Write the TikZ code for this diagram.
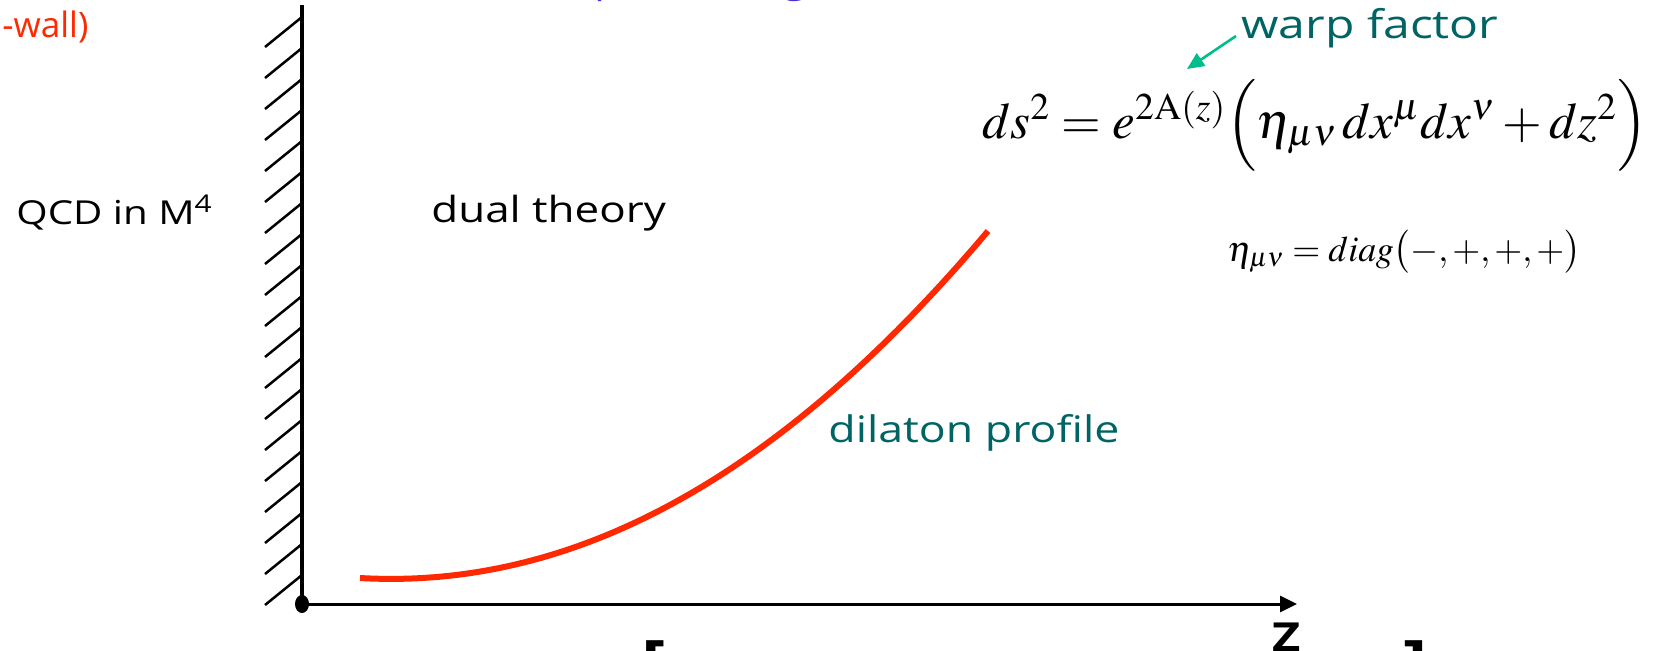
\documentclass[tikz,border=0pt]{standalone}
\usepackage{mathptmx}
\usepackage{fontspec}
\newfontfamily\comic[FakeStretch=1.22]{Open Sans}
\newfontfamily\comicn{Open Sans}
\usetikzlibrary{arrows.meta}
\definecolor{wallred}{RGB}{255,40,0}
\definecolor{labteal}{RGB}{0,100,100}
\definecolor{arrgreen}{RGB}{0,190,140}
\definecolor{topblue}{RGB}{70,50,210}
\tikzset{
  lab/.style={inner sep=0pt, font=\comic\fontsize{17}{20}\selectfont},
  fs/.style={font=\comic\fontsize{#1}{#1}\selectfont},
  hatch/.style={line width=1.25pt},
}
\begin{document}
\begin{tikzpicture}[x=0.5pt,y=-0.5pt]
\useasboundingbox (0,0) rectangle (1670,650);
% wall
\coordinate (O) at (302,604);
\coordinate (walltop) at (302,5);
\draw[line width=2pt] (O) -- (walltop);
\foreach \i in {0,...,18} \draw[hatch] (302,{17+31*\i}) -- ++(-37,30);
% axis
\coordinate (axend) at (1297,604);
\draw[line width=1.5pt,-{Triangle[length=8.5pt,width=8pt]}] (O) -- (axend);
\fill (O) ellipse [x radius=3.5pt, y radius=4.5pt];
% dilaton curve
\coordinate (c0) at (360,578);
\coordinate (c1) at (988,231);
\draw[wallred, line width=3pt] (c0) .. controls (572,590) and (778,480) .. (c1);
% texts
\node[inner sep=0pt, font=\comicn\fontsize{17.5}{20}\selectfont, anchor=base west, text=wallred] (wall) at (2,37) {-wall)};
\node[lab, fs=16.5, anchor=base west] (qcd) at (16,224) {QCD in M\textsuperscript{4}};
\node[lab, fs=18, anchor=base west] (dual) at (431,222) {dual theory};
\node[lab, fs=19.7, anchor=base west, text=labteal] (warp) at (1241,38) {warp factor};
\node[lab, fs=18.3, anchor=base west, text=labteal] (dil) at (828,442) {dilaton profile};
\node[anchor=base west, inner sep=0pt, font=\fontsize{25.5}{28}\selectfont] (eq1) at (982,138)
  {$ds^2 = e^{2\mathrm{A}(z)}\Big(\eta_{\mu\nu}\,dx^{\mu}dx^{\nu} + dz^2\Big)$};
\node[anchor=base west, inner sep=0pt, font=\fontsize{18}{21}\selectfont] (eq2) at (1227,261)
  {$\eta_{\mu\nu} = diag\big(-,+,+,+\big)$};
% warp arrow
\coordinate (arrtail) at (1236,36);
\coordinate (arrtip) at (1187,69);
\draw[arrgreen, line width=1.3pt, -{Triangle[length=8.5pt,width=7.5pt]}] (arrtail) -- (arrtip);
% cut-off text fragments
\node[lab, anchor=base, text=topblue] (tp) at (607,-7) {p};
\node[lab, anchor=base, text=topblue] (tg) at (795,-7) {g};
\node[inner sep=0pt, anchor=north, font=\comic\bfseries\fontsize{20}{24}\selectfont] (zl) at (1287,623) {Z};
\node[inner sep=0pt, anchor=north west, font=\comic\bfseries\fontsize{30}{34}\selectfont] (lb) at (641,640) {[};
\node[inner sep=0pt, anchor=north east, font=\comic\bfseries\fontsize{30}{34}\selectfont] (rb) at (1428,640) {]};
\end{tikzpicture}
\end{document}
